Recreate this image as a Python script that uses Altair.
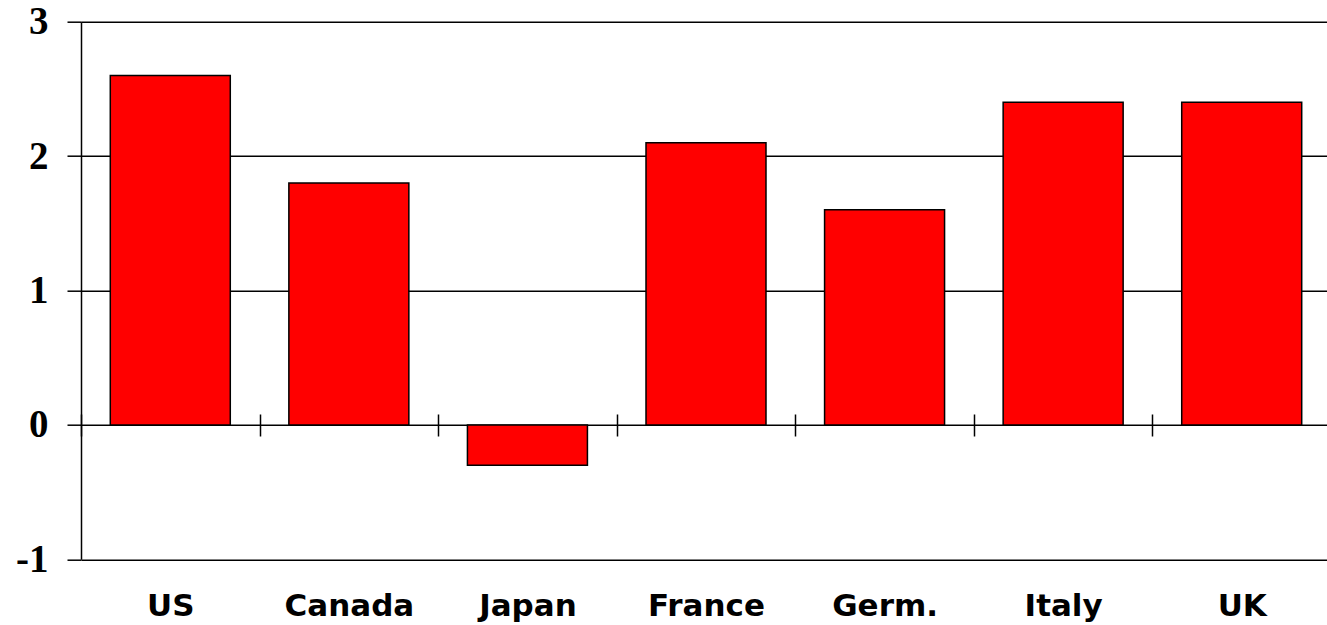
import altair as alt
import pandas as pd

countries = ["US", "Canada", "Japan", "France", "Germ.", "Italy", "UK"]
values = [2.6, 1.8, -0.3, 2.1, 1.6, 2.4, 2.4]
y_ticks = [-1, 0, 1, 2, 3]

df = pd.DataFrame({"country": countries, "value": values})

chart = alt.Chart(df).mark_bar(
    color="#FF0000", stroke="black", strokeWidth=1.5,
    width=alt.RelativeBandSize(0.672),
).encode(
    x=alt.X(
        "country:N",
        sort=countries,
        title=None,
        scale=alt.Scale(range=[0, 1250], paddingInner=0, paddingOuter=0),
        axis=alt.Axis(
            orient="bottom",
            offset=-145.3,
            domain=False,
            tickBand="extent",
            tickSize=22,
            tickColor="black",
            tickWidth=1.5,
            labelAngle=0,
            labelBaseline="alphabetic",
            labelPadding=180,
            labelFont="DejaVu Sans",
            labelFontWeight="bold",
            labelFontSize=31,
            labelColor="black",
            grid=False,
        ),
    ),
    y=alt.Y(
        "value:Q",
        title=None,
        scale=alt.Scale(domain=[-1, 3], nice=False, zero=False),
        axis=alt.Axis(
            values=y_ticks,
            labelExpr="'' + datum.value",
            domain=True,
            domainColor="black",
            domainWidth=1.5,
            tickSize=14,
            tickColor="black",
            tickWidth=1.5,
            grid=True,
            gridColor="black",
            gridWidth=1.5,
            gridOpacity=1,
            labelPadding=19,
            labelFont="Liberation Serif",
            labelFontWeight="bold",
            labelFontSize=39,
            labelColor="black",
            labelBaseline="middle",
        ),
    ),
).properties(
    width=1246,
    height=537.6,
    autosize=alt.AutoSizeParams(type="none"),
    padding={"left": 81, "top": 21.7, "right": 0, "bottom": 66},
    background="white",
).configure_view(stroke="transparent")

chart.save("out.html", embed_options={"renderer": "svg", "actions": False})
